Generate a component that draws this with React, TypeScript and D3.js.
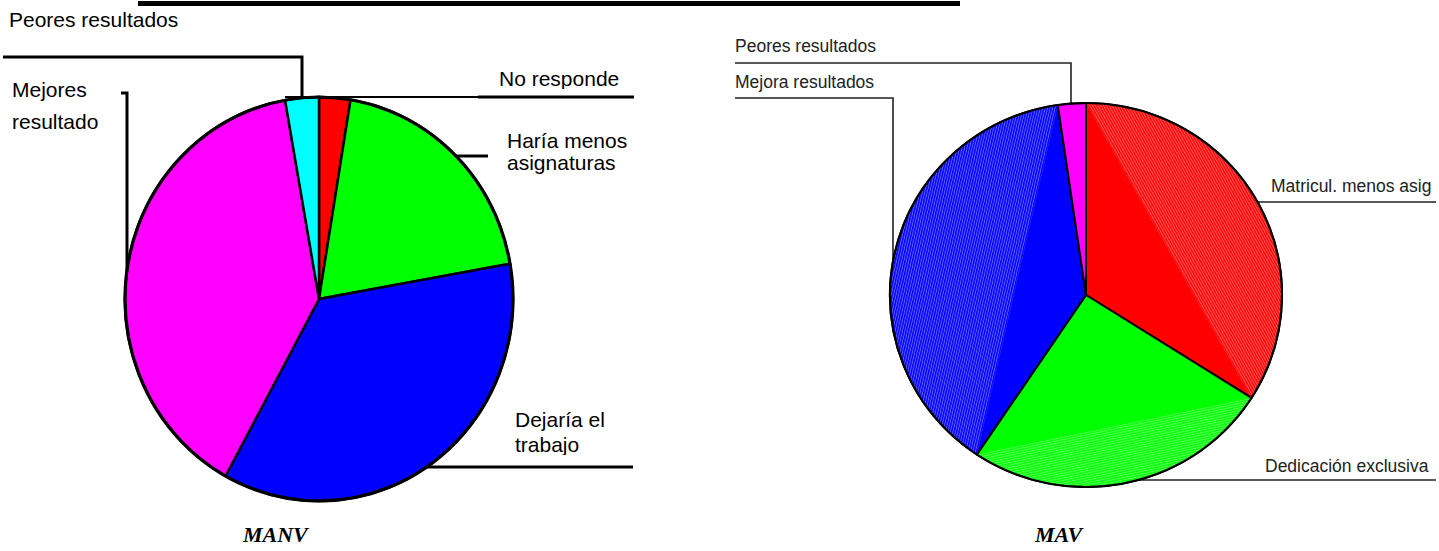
import React from "react";
import * as d3 from "d3";

// MANV responses, clockwise from 12 o'clock
const manvLabels = ["No responde", "Haría menos asignaturas", "Dejaría el trabajo", "Mejores resultado", "Peores resultados"];
const manvValues = [2.6, 19.6, 35.8, 39.2, 2.8];

// MAV responses, clockwise from 12 o'clock
const mavLabels = ["Matricul. menos asig", "Dedicación exclusiva", "Mejora resultados", "Peores resultados"];
const mavValues = [34.0, 25.4, 38.3, 2.3];

const chartTitles = ["MANV", "MAV"];

const W = 1439;
const H = 551;

const manvColors = ["#ff0000", "#00ff00", "#0000ff", "#ff00ff", "#00ffff"];
const mavColors = ["#ff0000", "#00ff00", "#0000ff", "#ff00ff"];
const mavLight = ["#ff5e5e", "#5eff5e", "#5e5eff", "#ff5eff"];

const SANS = "'Liberation Sans', Arial, sans-serif";
const SERIF = "'Liberation Serif', 'Times New Roman', serif";

type PieProps = {
  id: string;
  values: number[];
  colors: string[];
  light?: string[];
  cx: number;
  cy: number;
  rx: number;
  ry: number;
  outline: number;
  border: number;
};

function EllipsePie({ id, values, colors, light, cx, cy, rx, ry, outline, border }: PieProps) {
  const arcs = d3.pie<number>().sort(null).value((d) => d)(values);
  const arc = d3.arc<d3.PieArcDatum<number>>().innerRadius(0).outerRadius(rx);
  const pt = (a: number) => [rx * Math.sin(a), -rx * Math.cos(a)];
  return (
    <g>
      {light && (
        <defs>
          {arcs.map((a, i) => {
            const [x0, y0] = pt(a.startAngle);
            const [x1, y1] = pt(a.endAngle);
            const theta = (Math.atan2(y1 - y0, x1 - x0) * 180) / Math.PI;
            return (
              <pattern
                key={i}
                id={`${id}-shade-${i}`}
                patternUnits="userSpaceOnUse"
                width={2.4}
                height={2.4}
                patternTransform={`rotate(${theta})`}
              >
                <rect width={2.4} height={2.4} fill={light[i]} />
                <rect width={2.4} height={1.4} fill={colors[i]} />
              </pattern>
            );
          })}
        </defs>
      )}
      <g transform={`translate(${cx},${cy}) scale(1,${ry / rx})`}>
        {arcs.map((a, i) => (
          <path
            key={i}
            d={arc(a) || ""}
            fill={colors[i]}
            stroke="#000"
            strokeWidth={border}
            strokeLinejoin="round"
            vectorEffect="non-scaling-stroke"
          />
        ))}
        {light &&
          arcs.map((a, i) => {
            if (a.endAngle - a.startAngle > Math.PI) return null;
            const [x0, y0] = pt(a.startAngle);
            const [x1, y1] = pt(a.endAngle);
            const p = d3.path();
            p.moveTo(x0, y0);
            p.arc(0, 0, rx, a.startAngle - Math.PI / 2, a.endAngle - Math.PI / 2, false);
            p.lineTo(x1, y1);
            p.closePath();
            return <path key={`s${i}`} d={p.toString()} fill={`url(#${id}-shade-${i})`} />;
          })}
        <circle r={rx} fill="none" stroke="#000" strokeWidth={outline} vectorEffect="non-scaling-stroke" />
      </g>
    </g>
  );
}

function Leader({ pts, w, color }: { pts: number[][]; w: number; color: string }) {
  const line = d3.line();
  return <path d={line(pts as [number, number][]) || ""} fill="none" stroke={color} strokeWidth={w} />;
}

export default function App() {
  const left = { cx: 319, cy: 299, rx: 194, ry: 202 };
  const right = { cx: 1086, cy: 295, rx: 196, ry: 192 };
  const lfs = 21;
  const rfs = 17.5;
  return (
    <svg
      width={W}
      height={H}
      viewBox={`0 0 ${W} ${H}`}
      style={{ position: "absolute", left: 0, top: 0, background: "#fff" }}
    >
      <defs>
        <clipPath id="clip-noresp">
          <rect x={480} y={60} width={160} height={29} />
        </clipPath>
        <clipPath id="clip-dejaria">
          <rect x={500} y={395} width={140} height={60} />
        </clipPath>
      </defs>

      {/* heading underline */}
      <rect x={138} y={1} width={822} height={5} fill="#000" />

      {/* MANV leaders */}
      <g>
        <Leader pts={[[3, 57], [302, 57], [302, 98]]} w={3} color="#000" />
        <Leader pts={[[285, 97], [478, 97]]} w={2} color="#000" />
        <Leader pts={[[478, 97], [634, 97]]} w={3} color="#000" />
        <Leader pts={[[121, 93], [127, 93], [127, 290]]} w={3} color="#000" />
        <Leader pts={[[440, 156], [488, 156]]} w={3} color="#000" />
        <Leader pts={[[410, 467], [633, 467]]} w={3} color="#000" />
      </g>

      <EllipsePie id="manv" values={manvValues} colors={manvColors} {...left} outline={3.2} border={2.5} />

      {/* MANV labels */}
      <g fontFamily={SANS} fontSize={lfs} fill="#000">
        <text x={9} y={27}>{manvLabels[4]}</text>
        <text x={12} y={97}>Mejores</text>
        <text x={12} y={129}>resultado</text>
        <text x={499} y={86} clipPath="url(#clip-noresp)">{manvLabels[0]}</text>
        <text x={507} y={148}>Haría menos</text>
        <text x={507} y={170}>asignaturas</text>
        <g clipPath="url(#clip-dejaria)">
          <text x={515} y={427}>Dejaría el</text>
          <text x={515} y={452}>trabajo</text>
        </g>
      </g>

      {/* MAV leaders */}
      <g>
        <Leader pts={[[735, 63], [1071, 63], [1071, 106]]} w={1.6} color="#222" />
        <Leader pts={[[735, 98], [893, 98], [893, 275]]} w={1.6} color="#222" />
        <Leader pts={[[1240, 202], [1436, 202]]} w={1.6} color="#222" />
        <Leader pts={[[1100, 480], [1436, 480]]} w={1.6} color="#222" />
      </g>

      <EllipsePie id="mav" values={mavValues} colors={mavColors} light={mavLight} {...right} outline={2.2} border={2} />

      {/* MAV labels */}
      <g fontFamily={SANS} fontSize={rfs} fill="#222">
        <text x={735} y={52}>{mavLabels[3]}</text>
        <text x={735} y={88}>{mavLabels[2]}</text>
        <text x={1271} y={192}>{mavLabels[0]}</text>
        <text x={1265} y={472}>{mavLabels[1]}</text>
      </g>

      {/* pie titles */}
      <g fontFamily={SERIF} fontSize={22} fontWeight="bold" fontStyle="italic" fill="#000">
        <text x={243} y={542}>{chartTitles[0]}</text>
        <text x={1035} y={542}>{chartTitles[1]}</text>
      </g>
    </svg>
  );
}
